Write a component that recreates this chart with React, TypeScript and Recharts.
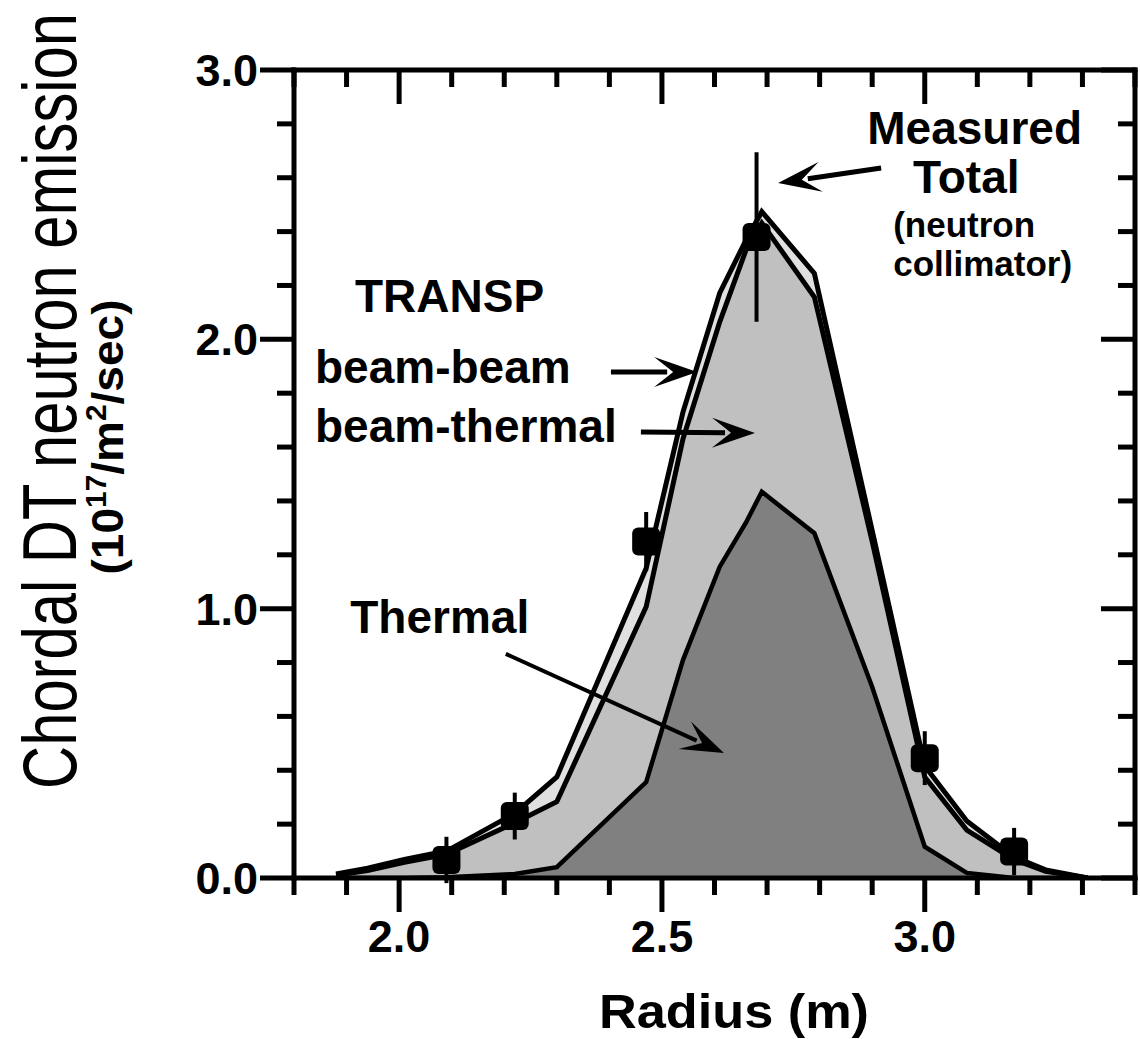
import {
  ComposedChart, Area, Scatter, ErrorBar, XAxis, YAxis, ReferenceLine, ReferenceDot,
} from "recharts";

// TRANSP radial grid (m) and chordal DT emission (1e17 /m^2/sec)
const radius = [1.88, 1.94, 2.01, 2.09, 2.22, 2.3, 2.47, 2.54, 2.61, 2.66, 2.69, 2.79, 2.9, 3.0, 3.08, 3.17, 3.23, 3.31];
// thermal + beam-thermal + beam-beam
const totalTransp = [0.015, 0.036, 0.069, 0.1, 0.24, 0.375, 1.15, 1.73, 2.172, 2.369, 2.474, 2.245, 1.29, 0.416, 0.212, 0.078, 0.03, 0.0];
// thermal + beam-thermal
const beamThermal = [0.01, 0.028, 0.058, 0.088, 0.205, 0.283, 1.007, 1.63, 2.065, 2.332, 2.432, 2.157, 1.25, 0.375, 0.178, 0.068, 0.025, 0.0];
const thermal = [0, 0, 0, 0.003, 0.015, 0.04, 0.356, 0.809, 1.156, 1.32, 1.434, 1.28, 0.709, 0.116, 0.019, 0, 0, 0];

// neutron collimator channels
const measR = [2.09, 2.22, 2.47, 2.68, 3.0, 3.17];
const measVal = [0.067, 0.23, 1.249, 2.38, 0.445, 0.098];
const measErr = [0.086, 0.087, 0.11, 0.315, 0.1, 0.088];

const xTicks = [1.8, 1.9, 2.0, 2.1, 2.2, 2.3, 2.4, 2.5, 2.6, 2.7, 2.8, 2.9, 3.0, 3.1, 3.2, 3.3, 3.4];
const xMajor = [2.0, 2.5, 3.0];
const yTicks = [0, 0.2, 0.4, 0.6, 0.8, 1.0, 1.2, 1.4, 1.6, 1.8, 2.0, 2.2, 2.4, 2.6, 2.8, 3.0];
const yMajor = [0, 1, 2, 3];

const rows = radius.map((r, i) => ({ r, total: totalTransp[i], bt: beamThermal[i], th: thermal[i] }));
const measured = measR.map((r, i) => ({ r, v: measVal[i], err: measErr[i] }));

// text annotations: [text, r, value, anchor, size]
const notes: [string, number, number, "start" | "middle" | "end", number][] = [
  ["TRANSP", 1.916, 2.1015, "start", 46],
  ["beam-beam", 1.84, 1.838, "start", 46],
  ["beam-thermal", 1.84, 1.619, "start", 46],
  ["Measured", 3.095, 2.725, "middle", 46],
  ["Total", 3.079, 2.543, "middle", 46],
  ["(neutron", 2.94, 2.38, "start", 35],
  ["collimator)", 2.94, 2.235, "start", 35],
  ["Thermal", 1.907, 0.91, "start", 46],
];

// arrows: from (r, value) to tip (r, value)
const arrows: [number, number, number, number][] = [
  [2.403, 1.879, 2.567, 1.879],
  [2.46, 1.656, 2.677, 1.652],
  [2.917, 2.636, 2.721, 2.58],
  [2.203, 0.832, 2.618, 0.464],
];

const FONT = '"Liberation Sans", Arial, Helvetica, sans-serif';
const MAJOR = 34;
const MINOR = 17;

const isMajor = (v: number, list: number[]) => list.some((m) => Math.abs(m - v) < 1e-6);

const BottomTick = ({ x, y, payload }: any) => {
  const major = isMajor(payload.value, xMajor);
  return (
    <g>
      <line x1={x} x2={x} y1={y} y2={y + (major ? MAJOR : MINOR)} stroke="#000" strokeWidth={5} />
      {major && (
        <text x={x} y={y + 74} textAnchor="middle" fontFamily={FONT} fontWeight="bold" fontSize={45} fill="#000">
          {payload.value.toFixed(1)}
        </text>
      )}
    </g>
  );
};

const TopTick = ({ x, y, payload }: any) => {
  const major = isMajor(payload.value, xMajor);
  return <line x1={x} x2={x} y1={y} y2={y + (major ? MAJOR : MINOR)} stroke="#000" strokeWidth={5} />;
};

const LeftTick = ({ x, y, payload }: any) => {
  const major = isMajor(payload.value, yMajor);
  return (
    <g>
      <line x1={x - (major ? MAJOR : MINOR)} x2={x} y1={y} y2={y} stroke="#000" strokeWidth={5} />
      {major && (
        <text x={x - 36} y={y + 16} textAnchor="end" fontFamily={FONT} fontWeight="bold" fontSize={45} fill="#000">
          {payload.value.toFixed(1)}
        </text>
      )}
    </g>
  );
};

const RightTick = ({ x, y, payload }: any) => {
  const major = isMajor(payload.value, yMajor);
  return <line x1={x - (major ? MAJOR : MINOR)} x2={x} y1={y} y2={y} stroke="#000" strokeWidth={5} />;
};

const Marker = ({ cx, cy }: any) => (
  <rect x={cx - 14} y={cy - 14} width={28} height={28} rx={6} fill="#000" />
);

const Arrow = ({ x1, y1, x2, y2, strokeWidth }: any) => {
  const a = Math.atan2(y2 - y1, x2 - x1);
  const pt = (l: number, w: number) =>
    `${x2 + l * Math.cos(a) - w * Math.sin(a)},${y2 + l * Math.sin(a) + w * Math.cos(a)}`;
  const [sx, sy] = pt(-30, 0).split(",").map(Number);
  return (
    <g>
      <line x1={x1} y1={y1} x2={sx} y2={sy} stroke="#000" strokeWidth={strokeWidth} />
      <polygon points={[pt(0, 0), pt(-43, -15), pt(-24, 0), pt(-43, 15)].join(" ")} fill="#000" />
    </g>
  );
};

// tall, condensed lettering: regular face stretched vertically
const YTitle = () => (
  <g fill="#000">
    <text
      transform="translate(76,401) rotate(-90) scale(1,1.27)"
      textAnchor="middle"
      fontFamily={FONT}
      fontSize={60}
      textLength={776}
      lengthAdjust="spacingAndGlyphs"
    >
      Chordal DT neutron emission
    </text>
    <text
      transform="translate(123,437) rotate(-90) scale(1,1.2)"
      textAnchor="middle"
      fontFamily={FONT}
      fontWeight="bold"
      fontSize={37}
      textLength={275}
      lengthAdjust="spacingAndGlyphs"
    >
      (10<tspan fontSize={24} dy={-14}>17</tspan>
      <tspan dy={14}>/m</tspan>
      <tspan fontSize={24} dy={-14}>2</tspan>
      <tspan dy={14}>/sec)</tspan>
    </text>
  </g>
);

const XTitle = () => (
  <text x={734} y={1028} textAnchor="middle" fontFamily={FONT} fontWeight="bold" fontSize={48}
    textLength={270} lengthAdjust="spacingAndGlyphs" fill="#000">
    Radius (m)
  </text>
);

const frame = { stroke: "#000", strokeWidth: 5, strokeLinecap: "square" as const };

export default function App() {
  return (
    <div style={{ position: "absolute", left: 0, top: 0, width: 1140, height: 1039, background: "#fff" }}>
      <ComposedChart width={1140} height={1039} data={rows} margin={{ top: 69, right: 4, bottom: 160, left: 293 }}>
        <XAxis
          dataKey="r" type="number" domain={[1.8, 3.4]} allowDataOverflow ticks={xTicks} interval={0}
          height={1} tickSize={0} tickMargin={0} tickLine={false} axisLine={frame}
          tick={BottomTick} label={XTitle}
        />
        <XAxis
          xAxisId="top" dataKey="r" orientation="top" type="number" domain={[1.8, 3.4]} allowDataOverflow
          ticks={xTicks} interval={0} height={1} tickSize={0} tickMargin={0} tickLine={false} axisLine={frame}
          tick={TopTick}
        />
        <YAxis
          type="number" domain={[0, 3]} allowDataOverflow ticks={yTicks} interval={0}
          width={1} tickSize={0} tickMargin={0} tickLine={false} axisLine={frame}
          tick={LeftTick} label={YTitle}
        />
        <YAxis
          yAxisId="right" orientation="right" type="number" domain={[0, 3]} allowDataOverflow ticks={yTicks}
          interval={0} width={1} tickSize={0} tickMargin={0} tickLine={false} axisLine={frame} tick={RightTick}
        />

        <Area type="linear" dataKey="total" fill="#e0e0e0" fillOpacity={1} stroke="#000" strokeWidth={5}
          dot={false} activeDot={false} isAnimationActive={false} />
        <Area type="linear" dataKey="bt" fill="#c0c0c0" fillOpacity={1} stroke="#000" strokeWidth={5}
          dot={false} activeDot={false} isAnimationActive={false} />
        <Area type="linear" dataKey="th" fill="#808080" fillOpacity={1} stroke="#000" strokeWidth={4.5}
          dot={false} activeDot={false} isAnimationActive={false} />

        <Scatter data={measured} dataKey="v" shape={Marker} isAnimationActive={false}>
          <ErrorBar dataKey="err" direction="y" width={0} stroke="#000" strokeWidth={4} isAnimationActive={false} />
        </Scatter>

        {arrows.map(([r1, v1, r2, v2], i) => (
          <ReferenceLine
            key={`arrow-${i}`}
            segment={[{ x: r1, y: v1 }, { x: r2, y: v2 }]}
            strokeWidth={i === 3 ? 4 : 5}
            shape={Arrow}
          />
        ))}

        {notes.map(([text, r, v, anchor, size]) => (
          <ReferenceDot
            key={text}
            x={r}
            y={v}
            r={0}
            fill="none"
            stroke="none"
            label={({ viewBox }: any) => (
              <text x={viewBox.x} y={viewBox.y} textAnchor={anchor} fontFamily={FONT} fontWeight="bold"
                fontSize={size} fill="#000">
                {text}
              </text>
            )}
          />
        ))}
      </ComposedChart>
    </div>
  );
}
